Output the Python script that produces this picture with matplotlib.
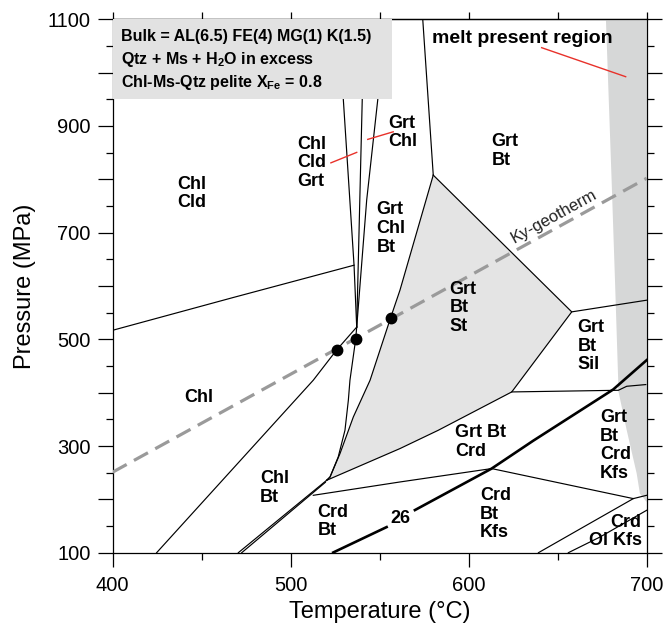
import numpy as np
import matplotlib
matplotlib.use("Agg")
import matplotlib.pyplot as plt
from matplotlib.patches import Polygon, Rectangle
from matplotlib.ticker import MultipleLocator, FuncFormatter

plt.rcParams['font.family'] = ['Liberation Sans', 'DejaVu Sans']
plt.rcParams['mathtext.fontset'] = 'custom'
plt.rcParams['mathtext.rm'] = 'Liberation Sans:bold'
plt.rcParams['mathtext.bf'] = 'Liberation Sans:bold'
plt.rcParams['mathtext.default'] = 'bf'

# ---- data (T in C, P in MPa) ----
chl_cld_T = [400, 467.8, 535.6]
chl_cld_P = [517, 578.5, 639]

lineA_T = [526.7, 529.6, 535.6, 537.1]
lineA_P = [1100, 948.6, 639, 523]
lineB_T = [541.3, 540.2, 537.1]
lineB_P = [1100, 948.6, 523]
lineC_T = [553.4, 548.9, 542.7, 537.1]
lineC_P = [1100, 948.6, 761, 523]

# Chl / Chl+Bt
lineA2_T = [537.1, 525.8, 512.7, 424.7]
lineA2_P = [523, 480, 423.4, 100]
# Chl+Bt / Grt+Chl+Bt
lineB2_T = [537.1, 536.5, 533.3, 532.4, 530.5, 526.7, 522.1, 520.2]
lineB2_P = [523, 499.7, 423.3, 385.8, 329.5, 279.4, 241.9, 235.7]

# Grt+Bt+St field (shaded)
st_left_T = [580.1, 561.4, 556.2, 544.6, 535.2, 527.7, 522.1, 520.2]
st_left_P = [807.9, 592.2, 541, 423.3, 354.5, 285.8, 241.9, 235.7]
st_right_T = [580.1, 657.9, 624.2, 582.9, 561.4, 520.2]
st_right_P = [807.9, 551.5, 401.4, 329.5, 295.2, 235.7]

grtchl_grtbt_T = [574.2, 580.1]
grtchl_grtbt_P = [1100, 807.9]
sil_top_T = [657.9, 700]
sil_top_P = [551.5, 573.4]
sil_bot_T = [624.2, 684.1, 688.8, 699.5]
sil_bot_P = [401.4, 404.5, 412, 415.2]

dbl1_T = [520.2, 470.6]
dbl1_P = [235.7, 100]
dbl2_T = [519.5, 472.5]
dbl2_P = [232, 100]

crd_T = [512.7, 561.4, 612.9, 692.5, 700]
crd_P = [207.6, 232.6, 257.7, 201.4, 207.6]

iso26_low_T = [523.9, 553.9]
iso26_low_P = [100.4, 148]
iso26_up_T = [569.8, 612.9, 636.3, 681.2, 700]
iso26_up_P = [179.9, 257.7, 310, 406, 461]

ol1_T = [639.2, 664.4, 692.5]
ol1_P = [100, 148, 201.4]
ol2_T = [656, 673.8, 700]
ol2_P = [100, 129.4, 179.5]

melt_T = [677.1, 680.3, 682.2, 684.0, 684.0, 688.8, 694.4, 696.2, 700, 700]
melt_P = [1100, 798.5, 610.9, 423.3, 404.5, 329.5, 248.3, 210.8, 195, 1100]

geo_T = [400, 700]
geo_P = [251, 802]
dots_T = [525.8, 536.5, 556.2]
dots_P = [480, 500, 540]

red_lines = [([641, 688.2], [1046.8, 992.4]),
             ([522.6, 537.1], [830.9, 850.5]),
             ([543.3, 557.6], [874.9, 889.1])]

field_labels = ["Chl\nCld", "Chl\nCld\nGrt", "Grt\nChl", "Grt\nChl\nBt", "Grt\nBt",
                "Grt\nBt\nSt", "Grt\nBt\nSil", "Grt\nBt\nCrd\nKfs", "Grt Bt\nCrd",
                "Crd\nBt\nKfs", "Chl", "Chl\nBt", "Crd\nBt"]
field_T = [436.5, 503.9, 554.9, 548.3, 612.9, 589.2, 661.2, 673.8, 592.3,
           606.3, 440.1, 482.8, 515]
field_P = [773.2, 831.4, 887.6, 707.9, 853.3, 559.4, 487.5, 300.8, 307.6,
           172.3, 391.5, 221.7, 158.5]

info_lines = ["Bulk = AL(6.5) FE(4) MG(1) K(1.5)",
              r"Qtz + Ms + H$_2$O in excess",
              r"Chl-Ms-Qtz pelite X$_{Fe}$ = 0.8"]
info_P = [1059.9, 1015.6, 972.4]

fig = plt.figure(figsize=(6.64, 6.31), dpi=100)
ax = fig.add_axes([0.1697, 0.1241, 0.8042, 0.8453])
ax.set_xlim(400, 700)
ax.set_ylim(100, 1100)

lw = 0.85
ax.add_patch(Polygon(np.column_stack([melt_T, melt_P]), closed=True,
                     facecolor='#d6d7d7', edgecolor='none', zorder=1))
st_poly = np.column_stack([st_right_T + st_left_T[::-1], st_right_P + st_left_P[::-1]])
ax.add_patch(Polygon(st_poly, closed=True, facecolor='#e4e4e4', edgecolor='none', zorder=1))

for T, P in [(chl_cld_T, chl_cld_P), (lineA_T, lineA_P), (lineB_T, lineB_P),
             (lineC_T, lineC_P), (lineA2_T, lineA2_P), (lineB2_T, lineB2_P),
             (st_left_T, st_left_P), (st_right_T, st_right_P),
             (grtchl_grtbt_T, grtchl_grtbt_P), (sil_top_T, sil_top_P),
             (sil_bot_T, sil_bot_P), (dbl1_T, dbl1_P), (dbl2_T, dbl2_P),
             (crd_T, crd_P), (ol1_T, ol1_P), (ol2_T, ol2_P)]:
    ax.plot(T, P, color='black', lw=lw, zorder=3)

ax.plot(iso26_low_T, iso26_low_P, color='black', lw=1.9, zorder=3)
ax.plot(iso26_up_T, iso26_up_P, color='black', lw=1.9, zorder=3)
ax.text(561.7, 163.5, "26", fontsize=13, fontweight='bold', ha='center', va='center', zorder=5)

ax.plot(geo_T, geo_P, color='#9a9a9a', lw=2.3, dashes=(5, 2.6), zorder=4)
ax.plot(dots_T, dots_P, 'o', color='black', ms=7.5, zorder=6)
ax.text(647.9, 731, "Ky-geotherm", fontsize=12, rotation=28.8, rotation_mode='anchor',
        ha='center', va='center', color='#222222', zorder=5)

for T, P in red_lines:
    ax.plot(T, P, color='#e8312a', lw=1, zorder=4)

for lab, T, P in zip(field_labels, field_T, field_P):
    ax.text(T, P, lab, fontsize=13, fontweight='bold', ha='left', va='center',
            linespacing=1.12, zorder=5)
ax.text(697.2, 139.7, "Crd\nOl Kfs", fontsize=13, fontweight='bold', ha='right',
        va='center', linespacing=1.12, zorder=5)
ax.text(579.2, 1055, "melt present region", fontsize=14, fontweight='bold',
        ha='left', va='baseline', zorder=5)

# info box in the upper left
ax.add_patch(Rectangle((400, 950), 156.7, 150, facecolor='#e2e2e2', edgecolor='none', zorder=7))
for s, P in zip(info_lines, info_P):
    ax.text(404.5, P, s, fontsize=11.5, fontweight='bold', ha='left', va='baseline', zorder=8)

# ticks
ax.xaxis.set_major_locator(MultipleLocator(100))
ax.xaxis.set_minor_locator(MultipleLocator(50))
ax.yaxis.set_major_locator(MultipleLocator(100))
ax.yaxis.set_minor_locator(MultipleLocator(50))
ax.yaxis.set_major_formatter(FuncFormatter(lambda v, p: "%d" % v if int(v) % 200 == 100 else ""))
ax.tick_params(axis='both', which='both', direction='out', width=0.9, labelsize=14.5)
ax.tick_params(axis='x', which='major', length=10, pad=7)
ax.tick_params(axis='x', which='minor', length=5)
ax.tick_params(axis='y', which='major', length=11, pad=5, right=True)
ax.tick_params(axis='y', which='minor', length=5, right=True)
top = ax.secondary_xaxis('top')
top.xaxis.set_major_locator(MultipleLocator(50))
top.tick_params(direction='out', length=5, width=0.9, labeltop=False)
for sp in list(ax.spines.values()) + list(top.spines.values()):
    sp.set_linewidth(0.9)

ax.set_xlabel("Temperature (°C)", fontsize=17, labelpad=4)
ax.set_ylabel("Pressure (MPa)", fontsize=17, labelpad=8)

fig.savefig("out.png", dpi=100)
